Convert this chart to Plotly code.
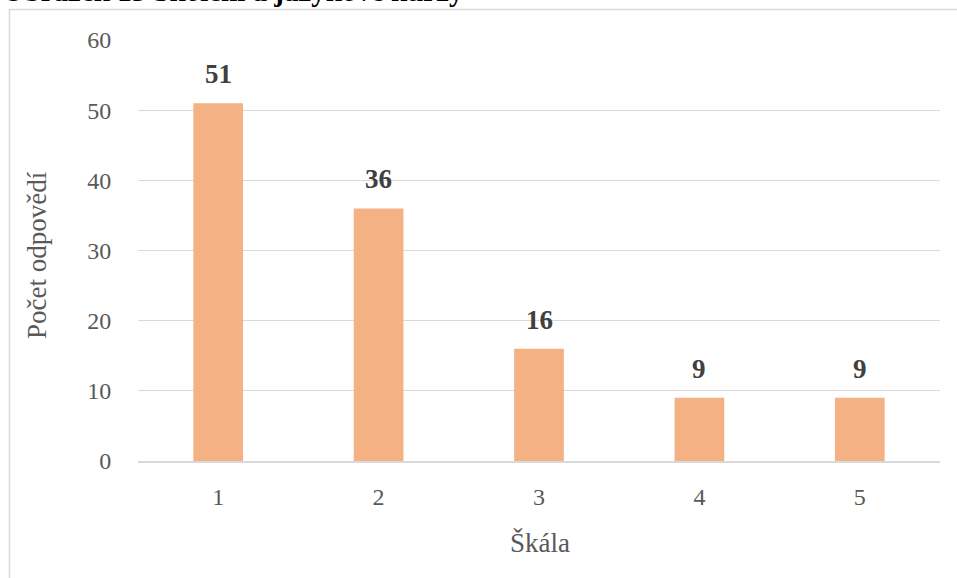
import plotly.graph_objects as go

categories = ["1", "2", "3", "4", "5"]
values = [51, 36, 16, 9, 9]
y_ticks = [0, 10, 20, 30, 40, 50, 60]

title_text = "Obrázek 13 Školení a jazykové kurzy"
x_title = "Škála"
y_title = "Počet odpovědí"

W, H = 957, 578
L, R, T, B = 138, 17, 40, 117
pw, ph = W - L - R, H - T - B

serif = "Liberation Serif"

fig = go.Figure()
fig.add_trace(go.Bar(
    x=categories, y=values,
    marker=dict(color="#F4B183", line=dict(width=0)),
    width=0.31,
    hoverinfo="x+y",
))

annotations = []
for i, v in enumerate(values):
    annotations.append(dict(
        x=i, y=v, xref="x", yref="y", text="<b>%d</b>" % v,
        showarrow=False, yanchor="bottom", yshift=12,
        font=dict(family=serif, size=27, color="#404040"),
    ))

# axis titles
annotations.append(dict(
    x=(540 - L) / pw, y=(H - B - 543) / ph, xref="paper", yref="paper",
    text=x_title, showarrow=False, xanchor="center", yanchor="middle",
    font=dict(family=serif, size=27, color="#595959"),
))
annotations.append(dict(
    x=(37 - L) / pw, y=(H - B - 255) / ph, xref="paper", yref="paper",
    text=y_title, showarrow=False, textangle=-90, xanchor="center", yanchor="middle",
    font=dict(family=serif, size=27, color="#595959"),
))
# figure caption (partly cut at top)
annotations.append(dict(
    x=(0 - L) / pw, y=(H - B - 5) / ph, xref="paper", yref="paper",
    text="<b>" + title_text + "</b>", showarrow=False, xanchor="left", yanchor="bottom",
    yshift=-4,
    font=dict(family=serif, size=29, color="#000000"),
))

shapes = [dict(
    type="rect", xref="paper", yref="paper",
    x0=(9.5 - L) / pw, x1=(W + 20 - L) / pw,
    y0=(H - B - (H + 20)) / ph, y1=(H - B - 9.5) / ph,
    line=dict(color="#D9D9D9", width=1.5), fillcolor="rgba(0,0,0,0)", layer="below",
)]

fig.update_layout(
    width=W, height=H,
    margin=dict(l=L, r=R, t=T, b=B, pad=0),
    paper_bgcolor="white", plot_bgcolor="white",
    showlegend=False,
    annotations=annotations,
    shapes=shapes,
    xaxis=dict(
        type="category", categoryorder="array", categoryarray=categories,
        range=[-0.5, len(categories) - 0.5],
        showgrid=False, showline=True, linecolor="#D9D9D9", linewidth=1.5,
        ticks="outside", ticklen=13, tickcolor="rgba(0,0,0,0)",
        tickfont=dict(family=serif, size=24, color="#595959"),
        fixedrange=True,
    ),
    yaxis=dict(
        range=[0, 60], tickvals=y_ticks, showgrid=True, gridcolor="#D9D9D9", gridwidth=1,
        zeroline=False, showline=False,
        ticks="outside", ticklen=21, tickcolor="rgba(0,0,0,0)",
        tickfont=dict(family=serif, size=24, color="#595959"),
        fixedrange=True,
    ),
)

fig.write_html("out.html")
